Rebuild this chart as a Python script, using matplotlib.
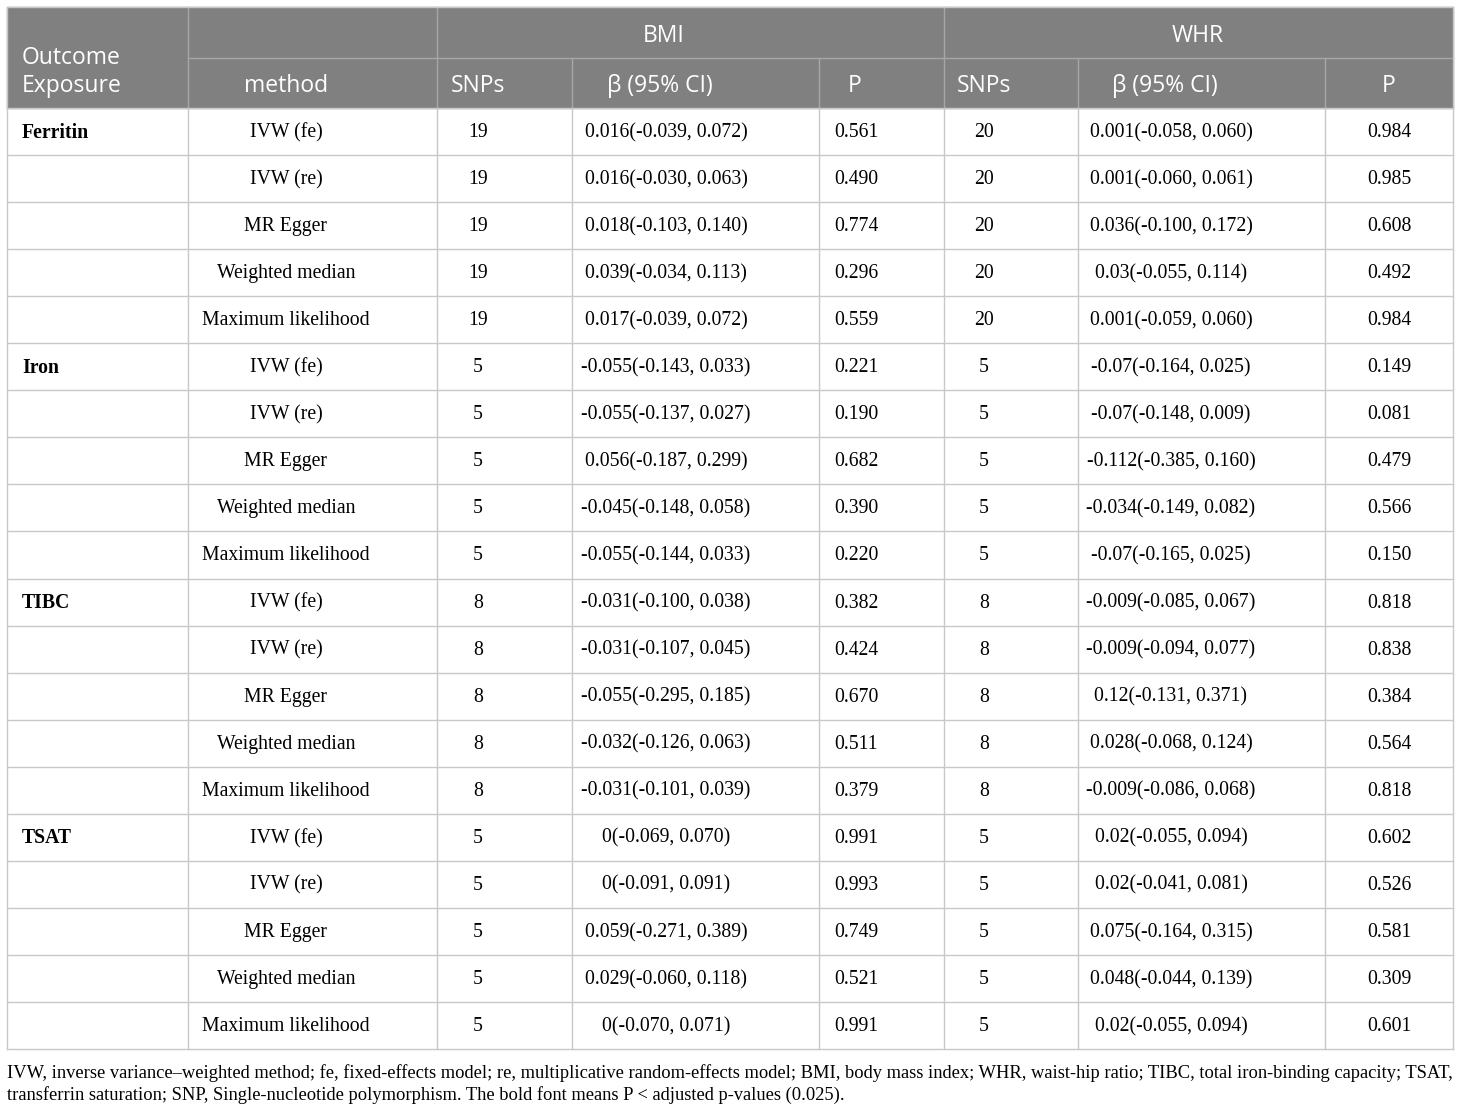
import matplotlib.pyplot as plt
from matplotlib.patches import Rectangle

# table content
exposures = ["Ferritin", "Iron", "TIBC", "TSAT"]
methods = ["IVW (fe)", "IVW (re)", "MR Egger", "Weighted median", "Maximum likelihood"]

bmi_snps = [19] * 5 + [5] * 5 + [8] * 5 + [5] * 5
bmi_beta = [
    "0.016(-0.039, 0.072)", "0.016(-0.030, 0.063)", "0.018(-0.103, 0.140)",
    "0.039(-0.034, 0.113)", "0.017(-0.039, 0.072)",
    "-0.055(-0.143, 0.033)", "-0.055(-0.137, 0.027)", "0.056(-0.187, 0.299)",
    "-0.045(-0.148, 0.058)", "-0.055(-0.144, 0.033)",
    "-0.031(-0.100, 0.038)", "-0.031(-0.107, 0.045)", "-0.055(-0.295, 0.185)",
    "-0.032(-0.126, 0.063)", "-0.031(-0.101, 0.039)",
    "0(-0.069, 0.070)", "0(-0.091, 0.091)", "0.059(-0.271, 0.389)",
    "0.029(-0.060, 0.118)", "0(-0.070, 0.071)",
]
bmi_p = ["0.561", "0.490", "0.774", "0.296", "0.559",
         "0.221", "0.190", "0.682", "0.390", "0.220",
         "0.382", "0.424", "0.670", "0.511", "0.379",
         "0.991", "0.993", "0.749", "0.521", "0.991"]

whr_snps = [20] * 5 + [5] * 5 + [8] * 5 + [5] * 5
whr_beta = [
    "0.001(-0.058, 0.060)", "0.001(-0.060, 0.061)", "0.036(-0.100, 0.172)",
    "0.03(-0.055, 0.114)", "0.001(-0.059, 0.060)",
    "-0.07(-0.164, 0.025)", "-0.07(-0.148, 0.009)", "-0.112(-0.385, 0.160)",
    "-0.034(-0.149, 0.082)", "-0.07(-0.165, 0.025)",
    "-0.009(-0.085, 0.067)", "-0.009(-0.094, 0.077)", "0.12(-0.131, 0.371)",
    "0.028(-0.068, 0.124)", "-0.009(-0.086, 0.068)",
    "0.02(-0.055, 0.094)", "0.02(-0.041, 0.081)", "0.075(-0.164, 0.315)",
    "0.048(-0.044, 0.139)", "0.02(-0.055, 0.094)",
]
whr_p = ["0.984", "0.985", "0.608", "0.492", "0.984",
         "0.149", "0.081", "0.479", "0.566", "0.150",
         "0.818", "0.838", "0.384", "0.564", "0.818",
         "0.602", "0.526", "0.581", "0.309", "0.601"]

footnote = [
    "IVW, inverse variance\u2013weighted method; fe, fixed-effects model; re, multiplicative random-effects model; "
    "BMI, body mass index; WHR, waist-hip ratio; TIBC, total iron-binding capacity; TSAT,",
    "transferrin saturation; SNP, Single-nucleotide polymorphism. The bold font means P < adjusted p-values (0.025).",
]

# geometry (pixels)
W, H = 1460, 1109
left, right, top = 7, 1453, 7
h1, h2 = 58, 108
row_h = 47.05
col_x = [7, 188, 437, 572, 819, 944, 1078, 1325, 1453]
txt_x = [286, 478, 666, 856, 984, 1171, 1389]
head_x = [286, 478, 660, 855, 984, 1165, 1389]

head_bg = "#808080"
head_line = "#a6a6a6"
grid_c = "#c8c8c8"
serif = "Liberation Serif"
sans = "Open Sans"

fig = plt.figure(figsize=(W / 100, H / 100), dpi=100)
ax = fig.add_axes([0, 0, 1, 1])
ax.set_xlim(0, W)
ax.set_ylim(H, 0)
ax.axis("off")

n_rows = len(methods) * len(exposures)
bottom = h2 + n_rows * row_h

# header
ax.add_patch(Rectangle((left, top), right - left, h2 - top, color=head_bg, zorder=1))
ax.plot([col_x[1], right], [h1, h1], color=head_line, lw=1, zorder=2)
for x in [col_x[1], col_x[2], col_x[5]]:
    ax.plot([x, x], [top, h2], color=head_line, lw=1, zorder=2)
for x in [col_x[3], col_x[4], col_x[6], col_x[7]]:
    ax.plot([x, x], [h1, h2], color=head_line, lw=1, zorder=2)

hkw = dict(color="white", fontsize=16.5, family=sans, va="center", zorder=3)
ax.text(22, 58, "Outcome", ha="left", **hkw)
ax.text(22, 86, "Exposure", ha="left", **hkw)
ax.text(664, 36, "BMI", ha="center", **hkw)
ax.text(1198, 36, "WHR", ha="center", **hkw)
for x, lab in zip(head_x, ["method", "SNPs", "\u03b2 (95% CI)", "P",
                           "SNPs", "\u03b2 (95% CI)", "P"]):
    ax.text(x, 86, lab, ha="center", **hkw)

# body grid
for i in range(n_rows + 1):
    y = h2 + i * row_h
    ax.plot([left, right], [y, y], color=grid_c, lw=1, zorder=2)
for x in col_x:
    ax.plot([x, x], [h2, bottom], color=grid_c, lw=1, zorder=2)
ax.plot([left, right], [top, top], color=grid_c, lw=1, zorder=2)
ax.plot([left, left], [top, h2], color=grid_c, lw=1, zorder=2)
ax.plot([right, right], [top, h2], color=grid_c, lw=1, zorder=2)

bkw = dict(color="black", fontsize=14.2, family=serif, va="center", zorder=3)
for i in range(n_rows):
    y = h2 + (i + 0.5) * row_h + 1
    if i % len(methods) == 0:
        ax.text(22, y, exposures[i // len(methods)], ha="left", fontweight="bold", **bkw)
    vals = [methods[i % len(methods)], str(bmi_snps[i]), bmi_beta[i], bmi_p[i],
            str(whr_snps[i]), whr_beta[i], whr_p[i]]
    for x, v in zip(txt_x, vals):
        ax.text(x, y, v, ha="center", **bkw)

for j, line in enumerate(footnote):
    ax.text(7, 1073 + j * 22, line, ha="left", va="center", color="black",
            fontsize=13.3, family=serif)

fig.savefig("out.png", dpi=100)
